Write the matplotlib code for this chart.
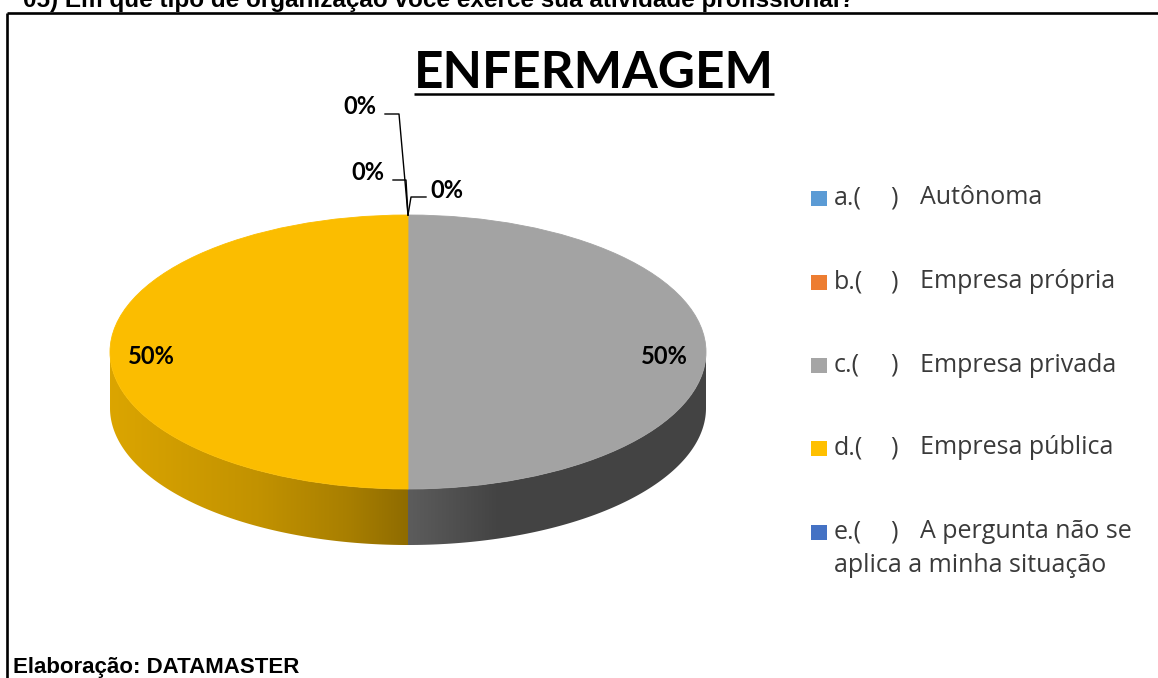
import numpy as np
import matplotlib
matplotlib.use("Agg")
import matplotlib.pyplot as plt
from matplotlib.patches import Wedge, Polygon, Rectangle
from matplotlib.transforms import Affine2D

# ---- data -------------------------------------------------------------
question = "05) Em que tipo de organização você exerce sua atividade profissional?"
title = "ENFERMAGEM"
source = "Elaboração: DATAMASTER"
letters = ["a", "b", "c", "d", "e"]
names = ["Autônoma", "Empresa própria", "Empresa privada", "Empresa pública",
         "A pergunta não se\naplica a minha situação"]
values = [0, 0, 50, 50, 0]          # percent
colors = ["#5B9BD5", "#ED7D31", "#A5A5A5", "#FFC000", "#4472C4"]

# callout positions for the empty slices (label centre, leader start, elbow)
callouts = {
    0: ((447, 190), (426, 197), (411, 197)),
    1: ((368, 172), (393, 180), (406, 180)),
    4: ((360, 107), (385, 114), (399, 114)),
}

# ---- figure in pixel units -------------------------------------------
W, H = 1158, 678
fig = plt.figure(figsize=(W / 100, H / 100), dpi=100)
ax = fig.add_axes([0, 0, 1, 1])
ax.set_xlim(0, W)
ax.set_ylim(H, 0)
ax.axis("off")

# frame (top and left edges visible)
ax.plot([7, W], [13, 13], color="black", lw=1.9, solid_capstyle="butt")
ax.plot([7, 7], [13, H], color="black", lw=1.9, solid_capstyle="butt")

ax.text(23, 7, question, fontsize=17.5, fontweight="bold",
        family="Liberation Sans", ha="left", va="baseline", color="black")
ax.text(13, 673, source, fontsize=16, fontweight="bold",
        family="Liberation Sans", ha="left", va="baseline", color="black")

# title with underline
t = ax.text(594, 88, title, fontsize=37, fontweight="bold", family="Lato",
            ha="center", va="baseline", color="black")
fig.canvas.draw()
bb = t.get_window_extent(fig.canvas.get_renderer())
ax.plot([bb.x0, bb.x1], [94, 94], color="black", lw=1.8, solid_capstyle="butt")

# ---- 3-D pie ----------------------------------------------------------
cx, cy, rx, ry, depth = 408, 352, 298, 137, 56
ell = Affine2D().scale(rx, -ry).translate(cx, cy) + ax.transData

total = float(sum(values))
cum = np.concatenate([[0.0], np.cumsum(values)])
# clockwise from 12 o'clock
theta_hi = 90 - cum[:-1] / total * 360
theta_lo = 90 - cum[1:] / total * 360


def side_shade(u):
    return np.interp(u, [-1, -0.5, -0.2, 0, 0.3, 1],
                     [0.86, 0.76, 0.66, 0.56, 0.41, 0.41])


xs = np.linspace(cx - rx, cx + rx, 800)
shade = side_shade((xs - cx) / rx)

for i, v in enumerate(values):
    if v <= 0:
        continue
    base = np.array(matplotlib.colors.to_rgb(colors[i]))
    for k in (-360, 0, 360):
        a = max(theta_lo[i] + k, 180)
        b = min(theta_hi[i] + k, 360)
        if b <= a:
            continue
        tt = np.radians(np.linspace(a, b, 200))
        top = np.column_stack([cx + rx * np.cos(tt), cy - ry * np.sin(tt)])
        bot = top[::-1] + [0, depth]
        poly = Polygon(np.vstack([top, bot]), closed=True,
                       facecolor="none", edgecolor="none")
        ax.add_patch(poly)
        img = np.clip(shade[None, :, None] * base[None, None, :], 0, 1)
        img = np.repeat(img, 2, axis=0)
        im = ax.imshow(img, extent=(cx - rx, cx + rx, cy + ry + depth, cy),
                       aspect="auto", interpolation="bilinear", zorder=1)
        im.set_clip_path(poly)

for i, v in enumerate(values):
    if v <= 0:
        continue
    top_col = np.array(matplotlib.colors.to_rgb(colors[i])) * 0.985
    ax.add_patch(Wedge((0, 0), 1, theta_lo[i], theta_hi[i], transform=ell,
                       facecolor=top_col, edgecolor=top_col, lw=0.6, zorder=2))

# ---- data labels ------------------------------------------------------
anchor_pt = (cx, cy - ry)
for i, v in enumerate(values):
    txt = f"{v:.0f}%"
    if v > 0:
        mid = np.radians((theta_lo[i] + theta_hi[i]) / 2)
        px = cx + 0.86 * rx * np.cos(mid)
        py = cy - 0.86 * ry * np.sin(mid) + 4
        ax.text(px, py, txt, fontsize=17, fontweight="bold", family="Lato",
                ha="center", va="center", color="black", zorder=5)
    else:
        (lx, ly), start, elbow = callouts[i]
        ax.text(lx, ly, txt, fontsize=17, fontweight="bold", family="Lato",
                ha="center", va="center", color="black", zorder=5)
        ax.plot([start[0], elbow[0], anchor_pt[0]],
                [start[1], elbow[1], anchor_pt[1]],
                color="black", lw=1.0, zorder=4)

# ---- legend -----------------------------------------------------------
row_y = [198, 282, 365, 448, 532]
leg_font = dict(fontsize=18, family="Open Sans", va="center", ha="left",
                color="#3a3a3a")
for i, (ltr, name) in enumerate(zip(letters, names)):
    y = row_y[i]
    ax.add_patch(Rectangle((811, y - 7.5), 16, 15, facecolor=colors[i],
                           edgecolor="none"))
    first, *rest = name.split("\n")
    ax.text(834, y, f"{ltr}.(", **leg_font)
    ax.text(890, y, ")", **leg_font)
    ax.text(920, y, first, **leg_font)
    for j, line in enumerate(rest):
        ax.text(834, y + 33 * (j + 1), line, **leg_font)

fig.savefig("out.png", dpi=100)
